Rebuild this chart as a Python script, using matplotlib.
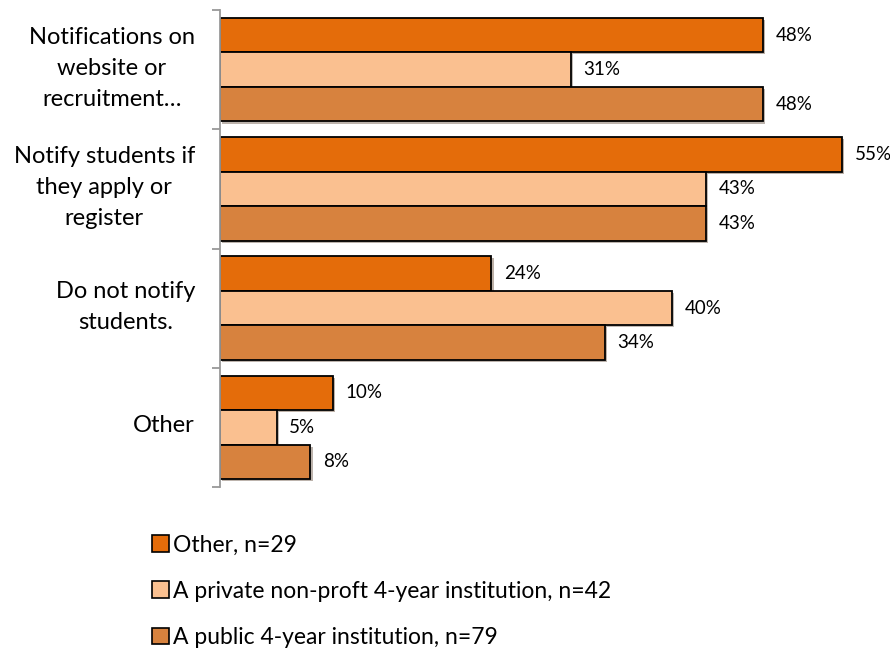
import numpy as np
import matplotlib.pyplot as plt
import matplotlib.patheffects as pe
from matplotlib.patches import Patch

plt.rcParams['font.family'] = ['Lato', 'DejaVu Sans']

categories = ['Notifications on\nwebsite or\nrecruitment…',
              'Notify students if\nthey apply or\nregister',
              'Do not notify\nstudents.',
              'Other']
series = ['Other, n=29',
          'A private non-proft 4-year institution, n=42',
          'A public 4-year institution, n=79']
other = [48, 55, 24, 10]
private = [31, 43, 40, 5]
public = [48, 43, 34, 8]
colors = ['#E46C0A', '#FAC090', '#D7823E']

fig = plt.figure(figsize=(8.9, 6.51), dpi=100)
ax = fig.add_axes([220 / 890, 1 - 487 / 651, 670 / 890, 477 / 651])

y = np.arange(len(categories))
h = 0.29
shadow = [pe.SimplePatchShadow(offset=(1.5, -1.5), alpha=0.35), pe.Normal()]
for k, (vals, c) in enumerate(zip([other, private, public], colors)):
    pos = y + (k - 1) * h
    bars = ax.barh(pos, vals, height=h, color=c, edgecolor='black', linewidth=1.3)
    for b in bars:
        b.set_path_effects(shadow)
    for p, v in zip(pos, vals):
        ax.text(v + 1.1, p, f'{v}%', va='center', ha='left', fontsize=13.5)

# category labels, centred lines, right edge near the axis
for i, cat in enumerate(categories):
    ax.annotate(cat, xy=(0, i), xycoords=('axes fraction', 'data'),
                xytext=(-18, 1), textcoords='offset points',
                ha='right', va='center', multialignment='center',
                fontsize=17, linespacing=1.6)

ax.set_xlim(0, 670 / 11.31)
ax.set_ylim(len(categories) - 0.5, -0.5)
ax.set_yticks(np.arange(len(categories) + 1) - 0.5)
ax.set_yticklabels([])
ax.tick_params(axis='y', length=6, color='#999999', width=1.3)
ax.set_xticks([])
for s in ['top', 'right', 'bottom']:
    ax.spines[s].set_visible(False)
ax.spines['left'].set_color('#999999')
ax.spines['left'].set_linewidth(1.3)

handles = [Patch(facecolor=c, edgecolor='black', linewidth=1.2) for c in colors]
fig.legend(handles, series, loc='upper left', bbox_to_anchor=(131 / 890, 1 - 514 / 651),
           frameon=False, fontsize=16.5, handlelength=0.75, handleheight=0.75,
           handletextpad=0.2, labelspacing=1.1)

fig.savefig('out.png', dpi=100)
